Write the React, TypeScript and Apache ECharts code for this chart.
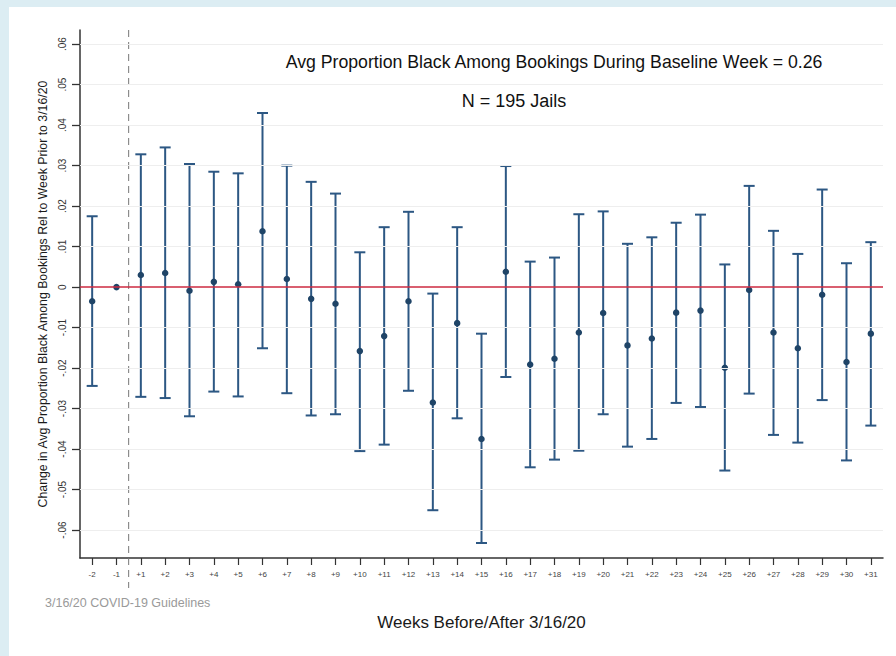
import React, { useEffect, useRef } from "react";
import * as echarts from "echarts";

const weeks = [
  "-2", "-1", "+1", "+2", "+3", "+4", "+5", "+6", "+7", "+8", "+9", "+10", "+11",
  "+12", "+13", "+14", "+15", "+16", "+17", "+18", "+19", "+20", "+21", "+22",
  "+23", "+24", "+25", "+26", "+27", "+28", "+29", "+30", "+31",
];

const estimate = [
  -0.0035, 0, 0.003, 0.0035, -0.0009, 0.0013, 0.0007, 0.0138, 0.002, -0.0029,
  -0.0041, -0.0158, -0.0121, -0.0035, -0.0285, -0.0089, -0.0375, 0.0038, -0.0191,
  -0.0177, -0.0112, -0.0064, -0.0144, -0.0127, -0.0063, -0.0058, -0.0199, -0.0007,
  -0.0112, -0.0151, -0.0019, -0.0185, -0.0115,
];

const lower = [
  -0.0244, null, -0.0271, -0.0274, -0.0319, -0.0258, -0.027, -0.0151, -0.0262,
  -0.0317, -0.0314, -0.0405, -0.0389, -0.0256, -0.0551, -0.0324, -0.0632, -0.0222,
  -0.0445, -0.0426, -0.0404, -0.0314, -0.0394, -0.0375, -0.0286, -0.0296, -0.0453,
  -0.0263, -0.0365, -0.0384, -0.0279, -0.0428, -0.0342,
];

const upper = [
  0.0175, null, 0.0328, 0.0345, 0.0304, 0.0285, 0.0281, 0.043, 0.03, 0.026, 0.0231,
  0.0086, 0.0148, 0.0186, -0.0016, 0.0148, -0.0115, 0.0299, 0.0063, 0.0073, 0.018,
  0.0187, 0.0107, 0.0123, 0.0159, 0.0179, 0.0056, 0.025, 0.0139, 0.0082, 0.0241,
  0.0059, 0.0111,
];

const yTicks = [-0.06, -0.05, -0.04, -0.03, -0.02, -0.01, 0, 0.01, 0.02, 0.03, 0.04, 0.05, 0.06];

const Y_MIN = -0.0669;
const Y_MAX = 0.0635;
const FONT = '"Liberation Sans", Arial, Helvetica, sans-serif';
const BAR = "#2c5783";
const DOT = "#1f4467";
const AXIS = "#333333";

const fmtTick = (v: number) => {
  if (Math.abs(v) < 1e-9) return "0";
  return (v < 0 ? "-" : "") + Math.abs(v).toFixed(2).replace(/^0/, "");
};

const App = () => {
  const chartContainer = useRef<HTMLDivElement>(null);

  useEffect(() => {
    if (!chartContainer.current) return;
    const chart = echarts.init(chartContainer.current, null, { renderer: "svg" });

    const bars = weeks
      .map((w, i) => (lower[i] == null ? null : [i, lower[i], upper[i]]))
      .filter((d) => d !== null);

    const option: echarts.EChartsOption = {
      animation: false,
      backgroundColor: "#ffffff",
      textStyle: { fontFamily: FONT },
      grid: { left: 71, right: 13, top: 23, bottom: 98 },
      xAxis: {
        type: "category",
        data: weeks,
        boundaryGap: true,
        name: "Weeks Before/After 3/16/20",
        nameLocation: "middle",
        nameGap: 56,
        nameTextStyle: { fontSize: 17, color: "#1a1a1a", fontFamily: FONT },
        axisLine: { show: true, onZero: false, lineStyle: { color: AXIS, width: 1.5 } },
        axisTick: { show: true, alignWithLabel: true, length: 7, lineStyle: { color: AXIS, width: 1.2 } },
        axisLabel: { interval: 0, fontSize: 8, color: "#444", margin: 12 },
        splitLine: { show: false },
      },
      yAxis: {
        type: "value",
        min: Y_MIN,
        max: Y_MAX,
        name: "Change in Avg Proportion Black Among Bookings Rel to Week Prior to 3/16/20",
        nameLocation: "middle",
        nameGap: 30,
        nameTextStyle: { fontSize: 12.3, color: "#1a1a1a", fontFamily: FONT },
        axisLine: { show: true, onZero: false, lineStyle: { color: AXIS, width: 1.5 } },
        axisTick: { show: true, length: 8, customValues: yTicks, lineStyle: { color: AXIS, width: 1.3 } },
        axisLabel: {
          customValues: yTicks,
          rotate: 90,
          fontSize: 10,
          color: "#333",
          margin: 13,
          formatter: (v: number) => fmtTick(v),
        },
        splitLine: { show: false },
      },
      series: [
        {
          name: "grid",
          type: "line",
          data: [],
          silent: true,
          markLine: {
            silent: true,
            symbol: "none",
            label: { show: false },
            lineStyle: { color: "#eeeeee", type: "solid", width: 1 },
            data: yTicks.filter((v) => v !== 0).map((v) => ({ yAxis: v })),
          },
        },
        {
          name: "zero",
          type: "line",
          data: [],
          silent: true,
          z: 1,
          markLine: {
            silent: true,
            symbol: "none",
            label: { show: false },
            lineStyle: { color: "#cc2a40", type: "solid", width: 1.5 },
            data: [{ yAxis: 0 }],
          },
        },
        {
          name: "ci",
          type: "custom",
          z: 3,
          encode: { x: 0, y: [1, 2] },
          renderItem: (params: any, api: any) => {
            const x = api.value(0);
            const lo = api.coord([x, api.value(1)]);
            const hi = api.coord([x, api.value(2)]);
            const cap = 5.5;
            const style = { stroke: BAR, lineWidth: 2 };
            return {
              type: "group",
              children: [
                { type: "line", shape: { x1: lo[0], y1: lo[1], x2: hi[0], y2: hi[1] }, style },
                { type: "line", shape: { x1: lo[0] - cap, y1: lo[1], x2: lo[0] + cap, y2: lo[1] }, style },
                { type: "line", shape: { x1: hi[0] - cap, y1: hi[1], x2: hi[0] + cap, y2: hi[1] }, style },
              ],
            };
          },
          data: bars as any,
        },
        {
          name: "estimate",
          type: "scatter",
          z: 4,
          symbol: "circle",
          symbolSize: 6.5,
          itemStyle: { color: DOT, opacity: 1 },
          data: estimate,
        },
      ],
    };

    chart.setOption(option);

    // guideline line between week -1 and +1, from the chart's own scales
    const xa = chart.convertToPixel({ xAxisIndex: 0 }, "-1") as number;
    const xb = chart.convertToPixel({ xAxisIndex: 0 }, "+1") as number;
    const yTop = chart.convertToPixel({ yAxisIndex: 0 }, Y_MAX) as number;
    const yBot = chart.convertToPixel({ yAxisIndex: 0 }, Y_MIN) as number;
    const xm = (xa + xb) / 2;

    chart.setOption({
      graphic: [
        {
          type: "line",
          z: 2,
          shape: { x1: xm, y1: yTop, x2: xm, y2: yBot + 30 },
          style: { stroke: "#777", lineWidth: 1, lineDash: [7, 5] },
        },
        {
          type: "text",
          left: 36,
          top: yBot + 38,
          style: { text: "3/16/20 COVID-19 Guidelines", fill: "#9a9a9a", font: `12.5px ${FONT}` },
        },
        {
          type: "text",
          x: 545,
          y: 55,
          style: {
            text: "Avg Proportion Black Among Bookings During Baseline Week = 0.26",
            fill: "#111",
            font: `17.7px ${FONT}`,
            align: "center",
            verticalAlign: "middle",
          },
        },
        {
          type: "text",
          x: 505,
          y: 94,
          style: {
            text: "N = 195 Jails",
            fill: "#111",
            font: `18px ${FONT}`,
            align: "center",
            verticalAlign: "middle",
          },
        },
      ],
    });

    const handleResize = () => chart.resize();
    window.addEventListener("resize", handleResize);
    return () => {
      window.removeEventListener("resize", handleResize);
      chart.dispose();
    };
  }, []);

  return (
    <div style={{ position: "fixed", left: 0, top: 0, width: 896, height: 656, background: "#dcedf3" }}>
      <div
        ref={chartContainer}
        style={{ position: "absolute", left: 9, top: 7, width: 887, height: 649, background: "#ffffff" }}
      />
    </div>
  );
};

export default App;
